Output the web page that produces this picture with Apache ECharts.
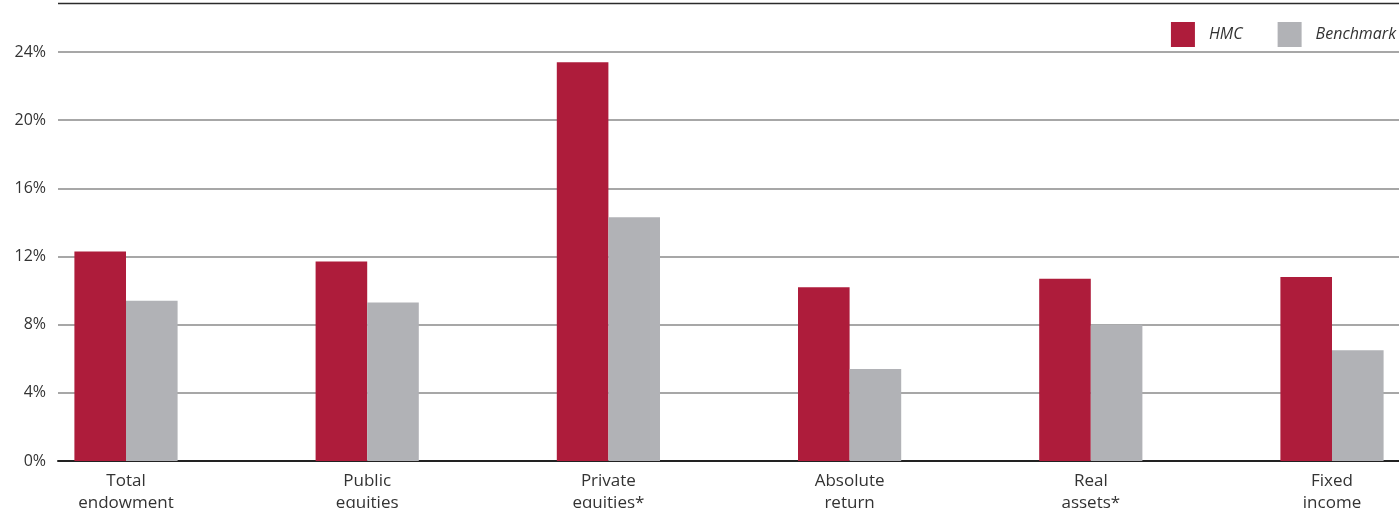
<!DOCTYPE html>
<html>
<head>
<meta charset="utf-8">
<script src="https://cdn.jsdelivr.net/npm/echarts@6/dist/echarts.min.js"></script>
<style>
html,body{margin:0;padding:0;background:#fff;}
#chart{width:1399px;height:508px;}
</style>
</head>
<body>
<div id="chart"></div>
<script>
const categories = ['Total\nendowment', 'Public\nequities', 'Private\nequities*', 'Absolute\nreturn', 'Real\nassets*', 'Fixed\nincome'];
const hmc = [12.3, 11.7, 23.4, 10.2, 10.7, 10.8];
const benchmark = [9.4, 9.3, 14.3, 5.4, 8.0, 6.5];
const yTicks = [0, 4, 8, 12, 16, 20, 24];

const FONT = '"Open Sans", "Noto Sans", sans-serif';
const chart = echarts.init(document.getElementById('chart'));
chart.setOption({
  animation: false,
  backgroundColor: '#fff',
  textStyle: { fontFamily: FONT },
  legend: {
    right: -2, top: 17,
    itemWidth: 24, itemHeight: 25, itemGap: 35,
    icon: 'rect',
    textStyle: { fontFamily: FONT, fontSize: 16, fontStyle: 'italic', color: '#333', padding: [0, 0, 0, 9] },
    data: ['HMC', 'Benchmark']
  },
  graphic: [{
    type: 'line', shape: { x1: 58, y1: 3.5, x2: 1399, y2: 3.5 },
    style: { stroke: '#2b2b2b', lineWidth: 1.5 }, z: 10
  }],
  grid: [
    { left: 58, right: 0, top: 52, bottom: 47, outerBoundsMode: 'none', containLabel: false },
    { left: 5.4, right: -53.6, top: 52, bottom: 47, outerBoundsMode: 'none', containLabel: false }
  ],
  xAxis: [
    { type: 'category', gridIndex: 0, data: categories,
      axisLine: { show: true, lineStyle: { color: '#222', width: 2 } },
      axisTick: { show: false }, axisLabel: { show: false }, splitLine: { show: false } },
    { type: 'category', gridIndex: 1, data: categories,
      axisLine: { show: false }, axisTick: { show: false },
      axisLabel: { interval: 0, margin: 9, fontFamily: FONT, fontSize: 17, lineHeight: 22, color: '#333' } }
  ],
  yAxis: [
    { type: 'value', gridIndex: 0, min: yTicks[0], max: yTicks[yTicks.length - 1], interval: 4,
      axisLine: { show: false }, axisTick: { show: false },
      axisLabel: { formatter: '{value}%', fontFamily: FONT, fontSize: 16, color: '#333', margin: 12 },
      splitLine: { show: true, lineStyle: { color: '#8a8a8a', width: 1.5 } } },
    { type: 'value', gridIndex: 1, min: yTicks[0], max: yTicks[yTicks.length - 1], interval: 4, show: false }
  ],
  series: [
    { name: 'HMC', type: 'bar', xAxisIndex: 1, yAxisIndex: 1, data: hmc,
      barWidth: 51.6, barGap: '0%', itemStyle: { color: '#ae1c3b' }, z: 3 },
    { name: 'Benchmark', type: 'bar', xAxisIndex: 1, yAxisIndex: 1, data: benchmark,
      barWidth: 51.6, barGap: '0%', itemStyle: { color: '#b1b2b6' }, z: 3 }
  ]
});
</script>
</body>
</html>
